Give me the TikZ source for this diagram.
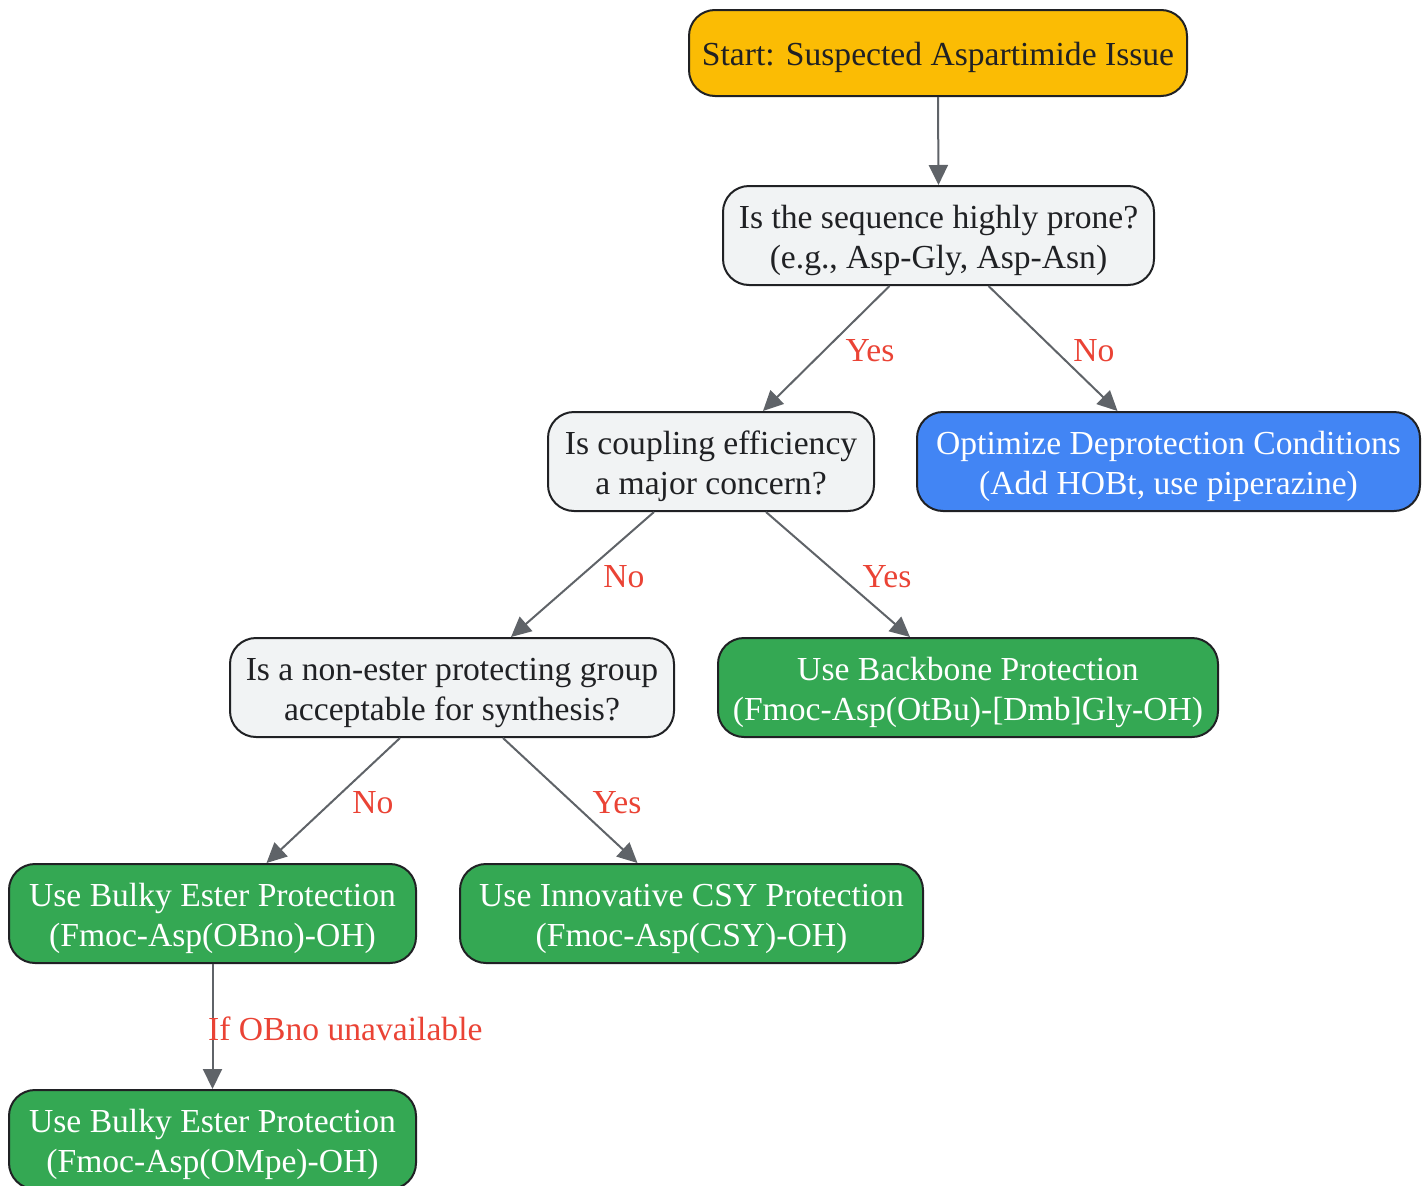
\documentclass[tikz,border=0pt]{standalone}
\usepackage{fontspec}
\setmainfont{Liberation Serif}
\usetikzlibrary{arrows.meta,calc}
\definecolor{cstart}{HTML}{FBBC04}
\definecolor{cq}{HTML}{F1F3F4}
\definecolor{cblue}{HTML}{4285F4}
\definecolor{cgreen}{HTML}{34A853}
\definecolor{cedge}{HTML}{5F6368}
\definecolor{clab}{HTML}{EA4335}
\definecolor{cbord}{HTML}{202124}
\tikzset{
  box/.style={draw=cbord, line width=2pt, rounded corners=26pt, inner sep=0pt},
  qbox/.style={box, fill=cq},
  gbox/.style={box, fill=cgreen},
  txt/.style={align=center, font=\fontsize{33.6}{40}\selectfont, inner sep=0pt},
  qtxt/.style={txt, text=cbord},
  wtxt/.style={txt, text=white},
  edge/.style={draw=cedge, line width=2pt, -{Triangle[length=20pt,width=19pt]}},
  elab/.style={text=clab, font=\fontsize{33.6}{40}\selectfont, inner sep=0pt}
}
\begin{document}
\begin{tikzpicture}[x=1pt,y=-1pt]
\useasboundingbox (0,0) rectangle (1428,1186);
\node[box, fill=cstart, minimum width=498pt, minimum height=86pt] (start) at (938,53) {};
\node[qbox, minimum width=431pt, minimum height=99pt] (q1) at (938.5,235.5) {};
\node[qbox, minimum width=326pt, minimum height=99pt] (q2) at (711,461.5) {};
\node[box, fill=cblue, minimum width=503pt, minimum height=99pt] (opt) at (1168.5,461.5) {};
\node[qbox, minimum width=444pt, minimum height=99pt] (q3) at (452,687.5) {};
\node[gbox, minimum width=500pt, minimum height=99pt] (bb) at (968,687.5) {};
\node[gbox, minimum width=407pt, minimum height=99pt] (b1) at (212.5,913.5) {};
\node[gbox, minimum width=463pt, minimum height=99pt] (csy) at (691.5,913.5) {};
\node[gbox, minimum width=407pt, minimum height=99pt] (b2) at (212.5,1139.5) {};

\node[qtxt] (startt) at ($(start.center)+(0,4)$) {Start: Suspected Aspartimide Issue};
\node[qtxt] (q1t) at ($(q1.center)+(0,5)$) {Is the sequence highly prone?\\(e.g., Asp-Gly, Asp-Asn)};
\node[qtxt] (q2t) at ($(q2.center)+(0,5)$) {Is coupling efficiency\\a major concern?};
\node[wtxt] (optt) at ($(opt.center)+(0,5)$) {Optimize Deprotection Conditions\\(Add HOBt, use piperazine)};
\node[qtxt] (q3t) at ($(q3.center)+(0,5)$) {Is a non-ester protecting group\\acceptable for synthesis?};
\node[wtxt] (bbt) at ($(bb.center)+(0,5)$) {Use Backbone Protection\\(Fmoc-Asp(OtBu)-[Dmb]Gly-OH)};
\node[wtxt] (b1t) at ($(b1.center)+(0,5)$) {Use Bulky Ester Protection\\(Fmoc-Asp(OBno)-OH)};
\node[wtxt] (csyt) at ($(csy.center)+(0,5)$) {Use Innovative CSY Protection\\(Fmoc-Asp(CSY)-OH)};
\node[wtxt] (b2t) at ($(b2.center)+(0,5)$) {Use Bulky Ester Protection\\(Fmoc-Asp(OMpe)-OH)};

\draw[edge] (start.south) -- (q1.north);
\draw[edge] ($(q1.south)+(-49,0)$) -- ($(q2.north)+(52,0)$);
\draw[edge] ($(q1.south)+(50,0)$) -- ($(opt.north)+(-51,0)$);
\draw[edge] ($(q2.south)+(-57,0)$) -- ($(q3.north)+(59,0)$);
\draw[edge] ($(q2.south)+(55,0)$) -- ($(bb.north)+(-58,0)$);
\draw[edge] ($(q3.south)+(-52,0)$) -- ($(b1.north)+(54,0)$);
\draw[edge] ($(q3.south)+(51,0)$) -- ($(csy.north)+(-54,0)$);
\draw[edge] (b1.south) -- (b2.north);

\node[elab] (l1) at (870,351) {Yes};
\node[elab] (l2) at (1094,351) {No};
\node[elab] (l3) at (624,577) {No};
\node[elab] (l4) at (887,577) {Yes};
\node[elab] (l5) at (373,803) {No};
\node[elab] (l6) at (617,803) {Yes};
\node[elab, anchor=west] (l7) at (208,1029) {If OBno unavailable};
\end{tikzpicture}
\end{document}
